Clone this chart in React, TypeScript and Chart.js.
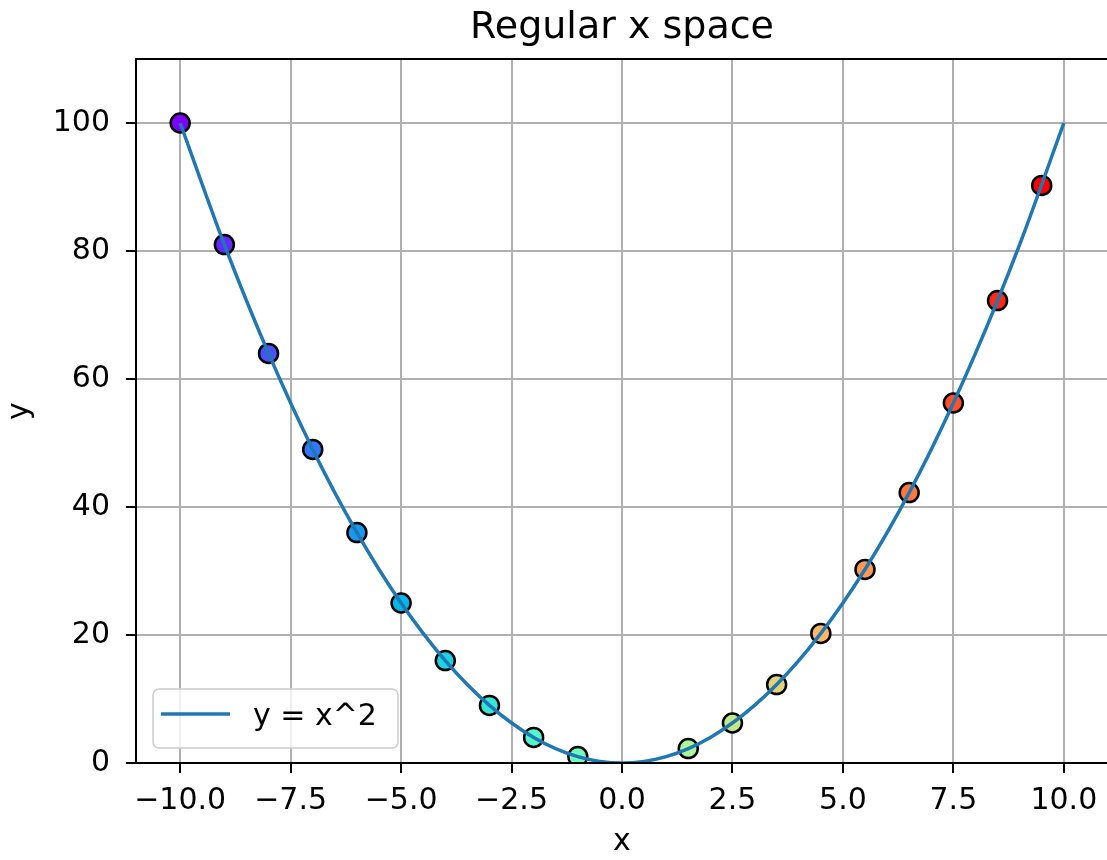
import React, { useEffect, useRef } from 'react';
import { Chart, registerables } from 'chart.js';

Chart.register(...registerables);

// ---- data ----
const pointX = [-10, -9, -8, -7, -6, -5, -4, -3, -2, -1, 1.5, 2.5, 3.5, 4.5, 5.5, 6.5, 7.5, 8.5, 9.5];
const pointY = [100, 81, 64, 49, 36, 25, 16, 9, 4, 1, 2.25, 6.25, 12.25, 20.25, 30.25, 42.25, 56.25, 72.25, 90.25];
const curveX = [-10, -9, -8, -7, -6, -5, -4, -3, -2, -1, 0, 1, 2, 3, 4, 5, 6, 7, 8, 9, 10];
const curveY = [100, 81, 64, 49, 36, 25, 16, 9, 4, 1, 0, 1, 4, 9, 16, 25, 36, 49, 64, 81, 100];
const xTicks = [-10, -7.5, -5, -2.5, 0, 2.5, 5, 7.5, 10];
const yTicks = [0, 20, 40, 60, 80, 100];
const titleText = 'Regular x space';
const legendLabel = 'y = x^2';
const xLabel = 'x';
const yLabel = 'y';

const FONT = '"DejaVu Sans", sans-serif';

function rainbow(t: number): string {
  const r = Math.min(1, Math.abs(2 * t - 0.5));
  const g = Math.sin(Math.PI * t);
  const b = Math.cos((Math.PI * t) / 2);
  return `rgb(${Math.round(r * 255)},${Math.round(g * 255)},${Math.round(b * 255)})`;
}

export default function App() {
  const ref = useRef<HTMLCanvasElement | null>(null);

  useEffect(() => {
    document.body.style.margin = '0';
    const canvas = ref.current;
    if (!canvas) return;
    const minX = Math.min(...pointX);
    const maxX = Math.max(...pointX);
    const colors = pointX.map((x) => rainbow((x - minX) / (maxX - minX)));

    const decor = {
      id: 'decor',
      afterDatasetsDraw(chart: any) {
        const { ctx, chartArea: ca } = chart;
        ctx.save();
        ctx.strokeStyle = '#000';
        ctx.lineWidth = 2;
        ctx.strokeRect(ca.left, ca.top, ca.right - ca.left, ca.bottom - ca.top);
        ctx.restore();
      },
      afterDraw(chart: any) {
        const { ctx, chartArea: ca } = chart;
        ctx.save();
        // title
        ctx.fillStyle = '#000';
        ctx.font = `38px ${FONT}`;
        ctx.textAlign = 'center';
        ctx.textBaseline = 'alphabetic';
        ctx.fillText(titleText, (ca.left + ca.right) / 2, 38);
        // legend
        const w = 245, h = 59;
        const bx = ca.left + 17;
        const by = ca.bottom - 15 - h;
        ctx.beginPath();
        (ctx as any).roundRect(bx, by, w, h, 6);
        ctx.fillStyle = 'rgba(255,255,255,0.8)';
        ctx.fill();
        ctx.strokeStyle = '#cccccc';
        ctx.lineWidth = 1.5;
        ctx.stroke();
        ctx.beginPath();
        ctx.moveTo(bx + 8, by + 25);
        ctx.lineTo(bx + 77, by + 25);
        ctx.strokeStyle = '#1f77b4';
        ctx.lineWidth = 3.5;
        ctx.stroke();
        ctx.fillStyle = '#000';
        ctx.font = `30px ${FONT}`;
        ctx.textAlign = 'left';
        ctx.textBaseline = 'alphabetic';
        ctx.fillText(legendLabel, bx + 100, by + 36);
        ctx.restore();
      },
    };

    const chart = new Chart(canvas, {
      type: 'scatter',
      data: {
        datasets: [
          {
            type: 'line',
            label: legendLabel,
            data: curveX.map((x, i) => ({ x, y: curveY[i] })),
            borderColor: '#1f77b4',
            borderWidth: 3.5,
            pointRadius: 0,
            cubicInterpolationMode: 'monotone',
            fill: false,
            order: 0,
          } as any,
          {
            type: 'scatter',
            label: 'points',
            data: pointX.map((x, i) => ({ x, y: pointY[i] })),
            pointBackgroundColor: colors,
            pointBorderColor: '#000',
            pointBorderWidth: 2.5,
            pointRadius: 9.5,
            order: 1,
          } as any,
        ],
      },
      options: {
        animation: false,
        responsive: false,
        events: [],
        layout: { padding: { top: 59, left: 0, right: 2, bottom: 0 } },
        plugins: {
          legend: { display: false },
          tooltip: { enabled: false },
          title: { display: false },
        },
        scales: {
          x: {
            type: 'linear',
            min: -11,
            max: 11,
            afterBuildTicks: (s: any) => {
              s.ticks = xTicks.map((v) => ({ value: v }));
            },
            afterFit: (s: any) => {
              s.height = 97;
              s.paddingLeft = 0;
              s.paddingRight = 0;
            },
            ticks: {
              autoSkip: false,
              maxRotation: 0,
              padding: 10,
              color: '#000',
              font: { family: FONT, size: 30 },
              callback: (v: any) => (Number(v) < 0 ? '\u2212' : '') + Math.abs(Number(v)).toFixed(1),
            },
            grid: { color: '#b0b0b0', lineWidth: 2, tickLength: 10, tickColor: '#000', tickWidth: 2 },
            border: { display: false },
            title: { display: true, text: xLabel, color: '#000', font: { family: FONT, size: 30 }, padding: { top: 0, bottom: 0 } },
          },
          y: {
            type: 'linear',
            min: 0,
            max: 110,
            afterBuildTicks: (s: any) => {
              s.ticks = yTicks.map((v) => ({ value: v }));
            },
            afterFit: (s: any) => {
              s.width = 136;
              s.paddingTop = 0;
              s.paddingBottom = 0;
            },
            ticks: {
              padding: 16,
              color: '#000',
              font: { family: FONT, size: 30 },
              callback: (v: any) => String(v),
            },
            grid: { color: '#b0b0b0', lineWidth: 2, tickLength: 10, tickColor: '#000', tickWidth: 2 },
            border: { display: false },
            title: { display: true, text: yLabel, color: '#000', font: { family: FONT, size: 30 }, padding: { top: 2, bottom: 0 } },
          },
        },
      } as any,
      plugins: [decor],
    });
    return () => chart.destroy();
  }, []);

  return (
    <div style={{ width: 1107, height: 860, overflow: 'hidden', position: 'relative' }}>
      <canvas ref={ref} width={1120} height={860} style={{ display: 'block', width: 1120, height: 860 }} />
    </div>
  );
}
